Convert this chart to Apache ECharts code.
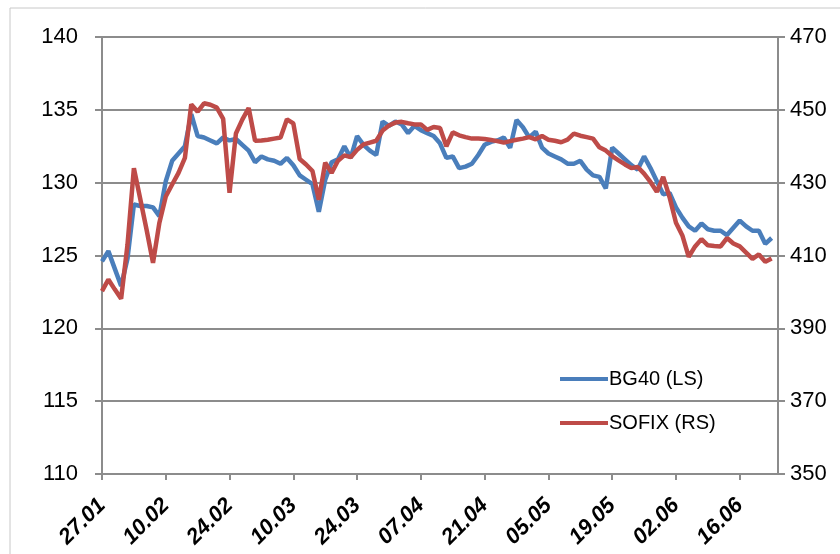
<!DOCTYPE html>
<html>
<head>
<meta charset="utf-8">
<script src="https://cdn.jsdelivr.net/npm/echarts@6/dist/echarts.min.js"></script>
<style>
  html, body { margin: 0; padding: 0; background: #fff; }
  #chart { width: 840px; height: 554px; }
</style>
</head>
<body>
<div id="chart"></div>
<script>
// weekday dates 27.01 - 24.06 (last one has no data)
var dates = [];
(function () {
    var d = new Date(2014, 0, 27);
    var end = new Date(2014, 5, 24);
    while (d <= end) {
        var wd = d.getDay();
        if (wd !== 0 && wd !== 6) {
            var dd = ('0' + d.getDate()).slice(-2);
            var mm = ('0' + (d.getMonth() + 1)).slice(-2);
            dates.push(dd + '.' + mm);
        }
        d.setDate(d.getDate() + 1);
    }
})();

// BG40, left scale
var bg40 = [
    124.6, 125.3, 124.1, 122.9, 124.8, 128.5, 128.4, 128.4, 128.3, 127.7,
    130.1, 131.5, 132.0, 132.5, 134.7, 133.2, 133.1, 132.9, 132.7, 133.1,
    132.9, 133.0, 132.6, 132.2, 131.4, 131.8, 131.6, 131.5, 131.3, 131.7,
    131.2, 130.5, 130.2, 129.9, 128.0, 130.2, 131.4, 131.6, 132.5, 131.7,
    133.2, 132.6, 132.2, 131.9, 134.2, 133.9, 134.2, 134.0, 133.4, 133.9,
    133.6, 133.4, 133.2, 132.7, 131.7, 131.8, 131.0, 131.1, 131.3, 131.9,
    132.6, 132.8, 132.9, 133.1, 132.4, 134.3, 133.8, 133.1, 133.5, 132.4,
    132.0, 131.8, 131.6, 131.3, 131.3, 131.5, 130.9, 130.5, 130.4, 129.6,
    132.4, 132.0, 131.6, 131.2, 130.9, 131.8, 131.0, 130.1, 129.2, 129.3,
    128.3, 127.6, 127.0, 126.7, 127.2, 126.8, 126.7, 126.7, 126.4, 126.9,
    127.4, 127.0, 126.7, 126.7, 125.8, 126.2, null
];

// SOFIX, right scale
var sofix = [
    400.2, 403.4, 400.7, 398.1, 413.0, 434.0, 425.5, 417.0, 408.0, 419.0,
    426.2, 429.5, 432.7, 436.8, 451.5, 449.5, 451.8, 451.4, 450.6, 447.5,
    427.2, 443.5, 447.3, 450.5, 441.5, 441.6, 441.8, 442.1, 442.4, 447.4,
    446.3, 436.5, 435.0, 433.2, 425.3, 435.5, 432.7, 436.0, 437.5, 437.0,
    439.0, 440.5, 441.0, 441.5, 444.3, 445.7, 446.5, 446.7, 446.3, 446.0,
    446.0, 444.5, 445.3, 445.0, 440.0, 443.8, 443.0, 442.5, 442.1, 442.1,
    442.0, 441.7, 441.4, 441.0, 441.4, 441.8, 442.1, 442.5, 441.9, 442.8,
    441.8, 441.5, 441.1, 441.8, 443.5, 442.9, 442.5, 442.1, 439.7, 438.8,
    437.3, 436.1, 435.0, 434.0, 434.3, 432.5, 430.2, 427.5, 431.6, 426.0,
    419.0, 415.5, 409.6, 412.5, 414.5, 412.8, 412.6, 412.5, 414.8, 413.3,
    412.5, 410.8, 409.1, 410.3, 408.3, 409.2, null
];

var seriesNames = ['BG40 (LS)', 'SOFIX (RS)'];
var seriesColors = ['#4a7ebb', '#be4b48'];

var font = '"Liberation Sans", Arial, sans-serif';
var gridColor = '#8c8c8c';

var myChart = echarts.init(document.getElementById('chart'));
var option = {
    animation: false,
    backgroundColor: '#fff',
    graphic: [{
        type: 'polyline',
        shape: { points: [[10, 560], [10, 8], [850, 8]] },
        style: { stroke: '#c8c8c8', lineWidth: 1, fill: null }
    }],
    grid: {
        left: 102,
        right: 62,
        top: 37,
        bottom: 80
    },
    legend: {
        orient: 'vertical',
        left: 555,
        top: 364,
        itemWidth: 48,
        itemHeight: 4,
        itemGap: 24,
        icon: 'rect',
        textStyle: {
            fontFamily: font,
            fontSize: 20,
            color: '#000',
            padding: [0, 0, 0, -4]
        },
        data: seriesNames
    },
    xAxis: {
        type: 'category',
        data: dates,
        boundaryGap: false,
        axisLine: { lineStyle: { color: gridColor, width: 2 } },
        axisTick: {
            interval: 9,
            length: 6,
            lineStyle: { color: gridColor, width: 2 }
        },
        axisLabel: {
            interval: 9,
            rotate: 45,
            margin: 28,
            fontFamily: font,
            fontSize: 22,
            fontWeight: 'bold',
            fontStyle: 'italic',
            color: '#000'
        },
        splitLine: { show: false }
    },
    yAxis: [{
        type: 'value',
        min: 110,
        max: 140,
        interval: 5,
        axisLine: { show: true, lineStyle: { color: gridColor, width: 2 } },
        axisTick: { show: true, length: 7, lineStyle: { color: gridColor, width: 2 } },
        axisLabel: {
            margin: 24,
            fontFamily: font,
            fontSize: 22,
            color: '#000'
        },
        splitLine: { lineStyle: { color: gridColor, width: 2 } }
    }, {
        type: 'value',
        min: 350,
        max: 470,
        interval: 20,
        position: 'right',
        axisLine: { show: true, lineStyle: { color: gridColor, width: 2 } },
        axisTick: { show: true, length: 7, lineStyle: { color: gridColor, width: 2 } },
        axisLabel: {
            margin: 12,
            fontFamily: font,
            fontSize: 22,
            color: '#000'
        },
        splitLine: { show: false }
    }],
    series: [{
        name: seriesNames[0],
        type: 'line',
        yAxisIndex: 0,
        data: bg40,
        showSymbol: false,
        itemStyle: { color: seriesColors[0] },
        lineStyle: { color: seriesColors[0], width: 4.5 }
    }, {
        name: seriesNames[1],
        type: 'line',
        yAxisIndex: 1,
        data: sofix,
        showSymbol: false,
        itemStyle: { color: seriesColors[1] },
        lineStyle: { color: seriesColors[1], width: 4.5 }
    }]
};
option && myChart.setOption(option);
</script>
</body>
</html>
